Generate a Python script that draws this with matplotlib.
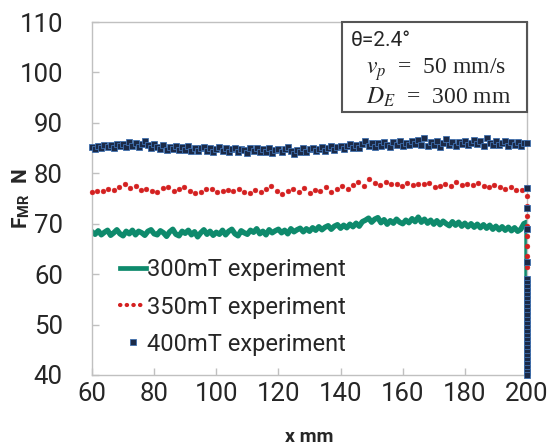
import numpy as np
import matplotlib
matplotlib.use("Agg")
import matplotlib.pyplot as plt
from matplotlib.lines import Line2D
from matplotlib.patches import Rectangle

plt.rcParams['font.family'] = ['Roboto', 'DejaVu Sans']
plt.rcParams['mathtext.fontset'] = 'custom'
plt.rcParams['mathtext.rm'] = 'Liberation Serif'
plt.rcParams['mathtext.it'] = 'STIXGeneral:italic'
plt.rcParams['mathtext.bf'] = 'Roboto:bold'

# ---------------- data ----------------
x_300 = list(range(60, 200)) + [200, 200]
f_300 = [68.4, 67.9, 68.6, 67.8, 68.3, 68.7, 67.7, 68.2, 68.8, 68.0,
         67.6, 68.5, 68.0, 68.7, 67.8, 68.5, 68.2, 67.7, 68.5, 68.8,
         68.0, 67.8, 68.6, 68.2, 67.5, 68.4, 68.9, 67.9, 67.6, 68.5,
         68.1, 68.7, 67.8, 68.4, 67.4, 68.2, 68.8, 67.9, 68.5, 67.7,
         68.3, 67.9, 68.7, 67.8, 68.5, 68.9, 68.0, 67.6, 68.6, 68.2,
         67.9, 68.7, 68.3, 69.0, 68.0, 68.5, 67.8, 68.8, 68.2, 68.6,
         68.9, 68.2, 68.7, 68.0, 69.0, 68.4, 68.8, 69.1, 68.4, 69.0,
         68.5, 69.2, 68.7, 69.4, 68.8, 69.3, 69.6, 68.9, 69.5, 69.8,
         69.1, 69.7, 69.2, 69.9, 69.4, 70.1, 69.5, 70.4, 70.7, 71.1,
         70.3, 70.9, 71.2, 70.2, 70.8, 69.9, 70.6, 70.1, 70.9, 70.3,
         70.0, 70.7, 70.2, 71.0, 70.4, 71.3, 70.3, 70.9, 70.1, 70.7,
         69.9, 70.6, 69.8, 70.5, 70.0, 69.6, 70.4, 69.7, 70.3, 69.5,
         70.1, 69.4, 70.0, 69.3, 69.9, 69.2, 69.8, 69.1, 69.7, 68.9,
         69.5, 68.8, 69.4, 68.7, 69.3, 68.6, 69.2, 68.5, 68.9, 70.0,
         70.3, 40.0]

x_350 = [60 + 1.75 * i for i in range(80)] + [200] * 9
f_350 = [76.2, 76.5, 76.4, 76.8, 76.6, 77.3, 77.8, 77.0, 77.4, 76.7,
         76.9, 76.4, 76.3, 77.0, 77.2, 76.5, 76.9, 77.3, 76.4, 76.1,
         76.3, 76.8, 76.9, 76.2, 76.5, 76.7, 76.4, 76.9, 76.3, 76.0,
         76.6, 76.2, 76.8, 77.4, 76.5, 75.9, 76.4, 76.9, 76.3, 77.0,
         76.1, 76.7, 76.4, 77.3, 76.2, 76.8, 77.5, 76.9, 77.6, 78.2,
         77.5, 78.8, 78.1, 77.6, 78.3, 77.8, 77.9, 77.4, 78.0, 77.6,
         77.9, 77.8, 78.1, 77.3, 77.5, 77.9, 77.4, 78.3, 77.7, 77.9,
         77.6, 78.1, 77.4, 77.2, 77.6, 77.3, 76.9, 77.2, 76.7, 76.6,
         77.3, 75.5, 73.5, 71.5, 69.5, 67.5, 65.5, 63.5, 61.5]

f_400_drop = [86.0, 77.0, 73.2, 69.0, 62.5, 59.0, 58.2, 57.4, 56.6, 55.8,
              55.0, 54.2, 53.4, 52.6, 51.8, 51.0, 50.2, 49.4, 48.6, 47.8,
              47.0, 46.2, 45.4, 44.6, 43.8, 43.0, 42.2, 41.4, 40.6, 40.0]
x_400 = list(range(60, 200)) + [200] * len(f_400_drop)
f_400 = [85.2, 84.9, 85.5, 85.0, 85.6, 85.3, 85.7, 85.1, 85.9, 85.4,
         85.8, 85.2, 86.2, 85.5, 86.0, 85.3, 85.9, 86.4, 85.6, 85.1,
         85.8, 85.2, 84.9, 85.6, 84.7, 85.3, 84.8, 85.5, 84.6, 85.2,
         84.7, 85.4, 84.5, 85.1, 84.4, 85.0, 85.3, 84.5, 85.0, 84.3,
         84.9, 85.2, 84.4, 85.0, 84.2, 84.8, 85.1, 84.3, 84.9, 84.6,
         84.1, 85.0, 84.4, 85.1, 84.2, 84.8, 84.3, 85.0, 84.0, 84.7,
         84.9, 84.2, 84.8, 85.2, 84.4, 83.9, 84.7, 84.2, 85.0, 84.3,
         84.8, 85.1, 84.4, 84.9, 85.3, 84.5, 85.0, 85.4, 84.7, 85.2,
         85.5, 84.8, 85.4, 85.8, 85.0, 85.6, 85.1, 85.9, 86.4, 85.5,
         86.0, 85.3, 86.1, 85.5, 86.3, 85.6, 85.2, 86.2, 85.7, 86.5,
         85.5, 86.1, 85.6, 86.4, 85.8, 86.6, 85.7, 87.0, 85.4, 86.2,
         85.6, 86.5, 85.2, 86.1, 86.8, 85.7, 86.3, 85.5, 86.2, 85.8,
         86.5, 85.6, 86.1, 86.6, 85.8, 86.4, 85.5, 86.9, 86.0, 85.7,
         86.4, 85.6, 86.1, 86.5, 85.4, 86.3, 85.7, 86.2, 85.5, 86.1] + f_400_drop

x_ticks = [60, 80, 100, 120, 140, 160, 180, 200]
y_ticks = [40, 50, 60, 70, 80, 90, 100, 110]
labels = ["300mT experiment", "350mT experiment", "400mT experiment"]

# ---------------- figure ----------------
W, H = 554, 445
fig = plt.figure(figsize=(W / 100, H / 100), dpi=100)
L, R, T, B = 92, 527, 22, 375
ax = fig.add_axes([L / W, 1 - B / H, (R - L) / W, (B - T) / H])

green = '#0e8a6c'
red = '#d42020'
navy = '#1b2a47'
edge = '#3f6fae'
txt = '#262626'

ax.plot(x_300, f_300, color=green, lw=3.9, solid_joinstyle='round', zorder=2)
ax.plot(x_350, f_350, ls='none', marker='o', ms=3.5, mfc=red, mec=red,
        mew=0.3, zorder=3, clip_on=False)
ax.plot(x_400, f_400, ls='none', marker='s', ms=3.9, mfc=navy, mec=edge,
        mew=0.6, zorder=4, clip_on=False)

ax.set_xlim(60, 200)
ax.set_ylim(40, 110)
ax.set_xticks(x_ticks)
ax.set_yticks(y_ticks)
for s in ax.spines.values():
    s.set_color('#c0c0c0')
    s.set_linewidth(1.0)
ax.tick_params(axis='both', direction='in', length=5, width=1, color='#c0c0c0',
               labelsize=18.5, labelcolor=txt)
ax.tick_params(axis='y', pad=21)
ax.tick_params(axis='x', pad=5)

ax.set_xlabel('x mm', fontsize=14, fontweight='bold', color=txt)
ax.xaxis.set_label_coords(0.5, (B - 428) / (B - T))
ax.set_ylabel(r'$\mathbf{F}_{\mathbf{MR}}$  N', fontsize=15, fontweight='bold', color=txt)
ax.yaxis.set_label_coords((32 - L) / (R - L), 0.5)

# legend
handles = [Line2D([], [], color=green, lw=3.4),
           Line2D([], [], color=red, lw=3.0, ls=(0, (0.1, 1.5)), dash_capstyle='round'),
           Line2D([], [], ls='none', marker='s', ms=3.8, mfc=navy, mec=edge, mew=0.6)]
leg = ax.legend(handles, labels, loc='lower left', bbox_to_anchor=(0.043, 0.028),
                frameon=False, fontsize=17, handlelength=1.1, handletextpad=0.05,
                labelspacing=0.6, borderaxespad=0)
for t in leg.get_texts():
    t.set_color(txt)

# annotation box
bx0 = (342 - L) / (R - L)
by0 = (B - 112) / (B - T)
ax.add_patch(Rectangle((bx0, by0), 1 - bx0, 1 - by0, transform=ax.transAxes,
                       fill=True, facecolor='white', edgecolor='#555555', lw=1.5,
                       zorder=5, clip_on=False))
ax.text((351 - L) / (R - L), (B - 41) / (B - T), u'\u03b8=2.4\u00b0', transform=ax.transAxes,
        fontsize=15, va='center', ha='left', zorder=6, color=txt)
ax.text((366 - L) / (R - L), (B - 70) / (B - T), r'$v_p$  =  50 mm/s', transform=ax.transAxes,
        fontsize=17, va='center', ha='left', zorder=6, family='Liberation Serif', color=txt)
ax.text((366 - L) / (R - L), (B - 97) / (B - T), r'$D_E$  =  300 mm', transform=ax.transAxes,
        fontsize=17, va='center', ha='left', zorder=6, family='Liberation Serif', color=txt)

fig.savefig('out.png', dpi=100)
